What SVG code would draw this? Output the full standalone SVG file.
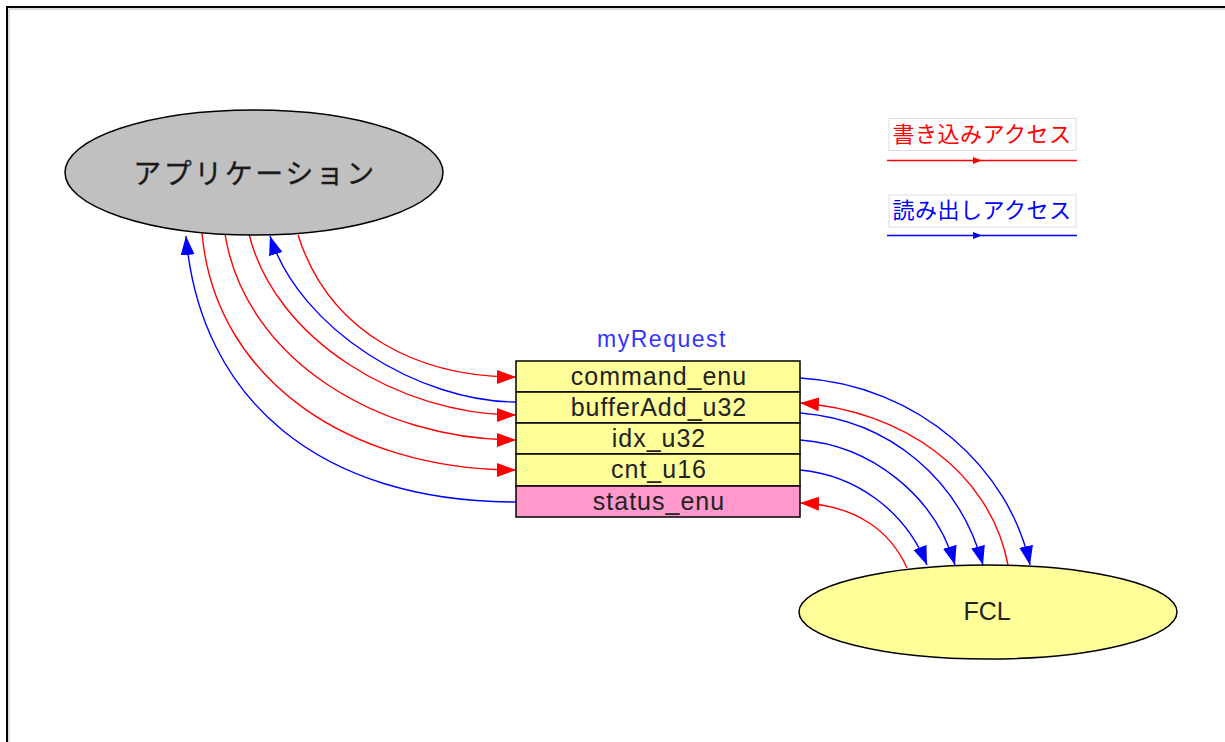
<svg xmlns="http://www.w3.org/2000/svg" width="1225" height="742" viewBox="0 0 1225 742">
<style>
.lat{font-family:"Liberation Sans",Arial,sans-serif;}
.jp{font-family:"Noto Sans CJK JP","Noto Sans CJK SC",sans-serif;}
.red{fill:none;stroke:#FF0000;stroke-width:1.4;marker-end:url(#ar);}
.blue{fill:none;stroke:#0000FF;stroke-width:1.4;marker-end:url(#ab);}
.cell{stroke:#000;stroke-width:1.5;}
.ct{font-size:25px;letter-spacing:1px;fill:#222;text-anchor:middle;}
</style>
<defs>
<marker id="ar" markerUnits="userSpaceOnUse" markerWidth="20" markerHeight="15" refX="19" refY="7" orient="auto" viewBox="0 0 20 15">
<path d="M0,0 L19,7 L0,14 z" fill="#FF0000"/>
</marker>
<marker id="ab" markerUnits="userSpaceOnUse" markerWidth="20" markerHeight="15" refX="19" refY="7" orient="auto" viewBox="0 0 20 15">
<path d="M0,0 L19,7 L0,14 z" fill="#0000FF"/>
</marker>
</defs>
<rect width="1225" height="742" fill="#fff"/>
<path d="M7,742 L7,7 L1225,7" fill="none" stroke="#000" stroke-width="2"/>
<path d="M9,742 L9,9 L1225,9" fill="none" stroke="#bbb" stroke-width="1"/>

<g id="connectors">
<path class="red" d="M298,235 C330,335 420,377 516,377"/>
<path class="blue" d="M516,402 C420,402 300,330 270,236"/>
<path class="red" d="M249,234 C275,340 400,415 516,415"/>
<path class="red" d="M225,234 C245,360 380,440 516,440"/>
<path class="red" d="M202,233 C215,380 350,470 516,470"/>
<path class="blue" d="M516,502 C320,502 200,400 186,236"/>
<path class="blue" d="M800,378 C920,385 1010,470 1030,565"/>
<path class="red" d="M1008,565 C990,470 900,410 800,403"/>
<path class="blue" d="M800,413 C890,420 960,480 983,565"/>
<path class="blue" d="M800,440 C870,445 935,495 955,565"/>
<path class="blue" d="M800,470 C855,475 905,510 927,565"/>
<path class="red" d="M907,568 C890,530 855,505 800,503"/>
</g>

<g id="application">
<ellipse cx="254" cy="172.5" rx="189" ry="62.5" fill="#C0C0C0" stroke="#000" stroke-width="1.5"/>
<text class="jp" x="255" y="184" font-size="28" letter-spacing="2.5" fill="#1a1a1a" stroke="#1a1a1a" stroke-width="0.3" text-anchor="middle">アプリケーション</text>
</g>

<g id="fcl">
<ellipse cx="988" cy="612" rx="189" ry="47" fill="#FFFF99" stroke="#000" stroke-width="1.5"/>
<text class="lat" x="987" y="620" font-size="25" fill="#222" text-anchor="middle">FCL</text>
</g>

<g id="myRequest">
<text class="lat" x="662" y="347" font-size="23" letter-spacing="1.5" fill="#3333FF" text-anchor="middle">myRequest</text>
<rect class="cell" x="516" y="361" width="284" height="31" fill="#FFFF99"/>
<rect class="cell" x="516" y="392" width="284" height="31" fill="#FFFF99"/>
<rect class="cell" x="516" y="423" width="284" height="31" fill="#FFFF99"/>
<rect class="cell" x="516" y="454" width="284" height="32" fill="#FFFF99"/>
<rect class="cell" x="516" y="486" width="284" height="31" fill="#FF99CC"/>
<text class="lat ct" x="659" y="385">command_enu</text>
<text class="lat ct" x="659" y="416">bufferAdd_u32</text>
<text class="lat ct" x="659" y="447">idx_u32</text>
<text class="lat ct" x="659" y="478">cnt_u16</text>
<text class="lat ct" x="659" y="510">status_enu</text>
</g>

<g id="legend-write">
<rect x="889" y="118.5" width="187" height="32" fill="#fff" stroke="#ddd" stroke-width="1"/>
<text class="jp" x="982" y="142" font-size="22" letter-spacing="0.5" fill="#FF0000" text-anchor="middle">書き込みアクセス</text>
<line x1="887" y1="160.5" x2="1077" y2="160.5" stroke="#FF0000" stroke-width="1.4"/>
<path d="M973,157 L982,160.5 L973,164 z" fill="#FF0000"/>
</g>

<g id="legend-read">
<rect x="889" y="195" width="187" height="32" fill="#fff" stroke="#ddd" stroke-width="1"/>
<text class="jp" x="982" y="218" font-size="22" letter-spacing="0.5" fill="#0000FF" text-anchor="middle">読み出しアクセス</text>
<line x1="887" y1="235.5" x2="1077" y2="235.5" stroke="#0000FF" stroke-width="1.4"/>
<path d="M973,232 L982,235.5 L973,239 z" fill="#0000FF"/>
</g>
</svg>
